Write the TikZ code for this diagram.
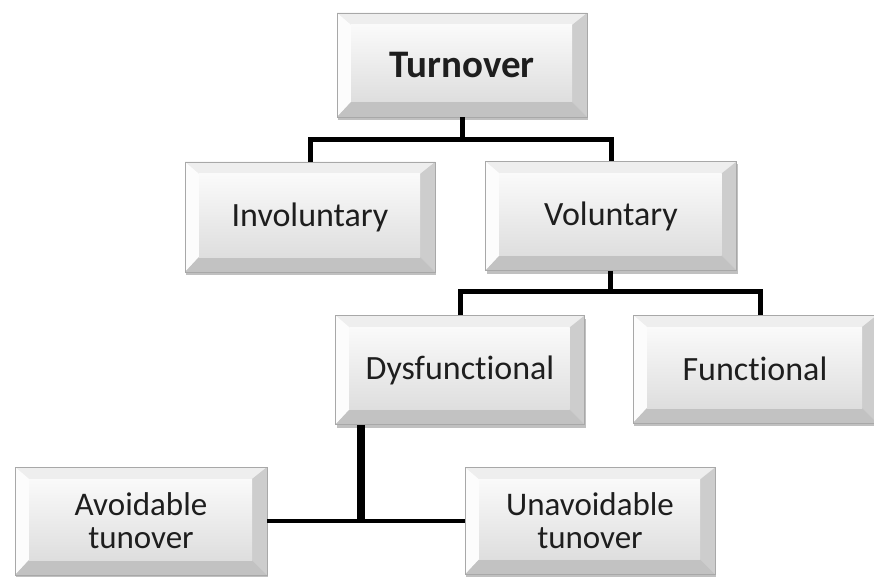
\documentclass[tikz,border=0pt]{standalone}
\usepackage{fontspec}
\setmainfont{Carlito}[Ligatures={NoCommon,NoRare}]
\usetikzlibrary{calc,shadows}
\definecolor{txt}{HTML}{1E1E1E}
\definecolor{facetop}{HTML}{FAFAFA}
\definecolor{facebot}{HTML}{DEDEDE}
\definecolor{bevtop}{HTML}{EEEEEE}
\definecolor{bevleft}{HTML}{FCFCFC}
\definecolor{bevright}{HTML}{CDCDCD}
\definecolor{bevbot}{HTML}{C2C2C2}
\definecolor{edge}{HTML}{A8A8A8}
\tikzset{
  bevelbox/.style={
    inner sep=0pt, align=center, text=txt,
    font=\fontsize{34}{30}\selectfont,
    drop shadow={shadow xshift=1pt, shadow yshift=-3pt, opacity=0.35, fill=black!70},
    draw=edge, line width=0.6pt,
    top color=facetop, bottom color=facebot,
    path picture={
      \coordinate (Bnw) at (path picture bounding box.north west);
      \coordinate (Bne) at (path picture bounding box.north east);
      \coordinate (Bse) at (path picture bounding box.south east);
      \coordinate (Bsw) at (path picture bounding box.south west);
      \coordinate (Inw) at ($(Bnw)+(14pt,-12pt)$);
      \coordinate (Ine) at ($(Bne)+(-15pt,-12pt)$);
      \coordinate (Ise) at ($(Bse)+(-15pt,15pt)$);
      \coordinate (Isw) at ($(Bsw)+(14pt,15pt)$);
      \fill[bevtop] (Bnw) -- (Bne) -- (Ine) -- (Inw) -- cycle;
      \fill[bevleft] (Bnw) -- (Inw) -- (Isw) -- (Bsw) -- cycle;
      \fill[bevright] (Bne) -- (Bse) -- (Ise) -- (Ine) -- cycle;
      \fill[bevbot] (Bsw) -- (Isw) -- (Ise) -- (Bse) -- cycle;
      \shade[top color=facetop, bottom color=facebot] (Inw) rectangle (Ise);
    }
  },
  twoline/.style={font=\fontsize{33}{33}\selectfont},
  conn/.style={line width=5pt, black},
  thickconn/.style={line width=8pt, black},
  thinconn/.style={line width=4pt, black}
}
\begin{document}
\begin{tikzpicture}[x=1pt,y=-1pt]
\useasboundingbox (0,0) rectangle (874,577);
\fill[white] (0,0) rectangle (874,577);

\node[bevelbox, minimum width=250pt, minimum height=104pt,
      font=\fontsize{39}{40}\selectfont\bfseries] (turnover) at (462,65) {Turnover};
\node[bevelbox, minimum width=250pt, minimum height=110pt] (invol) at (310,217) {Involuntary};
\node[bevelbox, minimum width=251pt, minimum height=109pt] (vol) at (611,216) {Voluntary};
\node[bevelbox, minimum width=249pt, minimum height=109pt] (dys) at (460,370) {Dysfunctional};
\node[bevelbox, minimum width=244pt, minimum height=108pt] (func) at (755,369) {Functional};
\node[bevelbox, twoline, minimum width=252pt, minimum height=108pt] (avoid) at (141,521) {Avoidable\\tunover};
\node[bevelbox, twoline, minimum width=250pt, minimum height=107pt] (unavoid) at (590,521) {Unavoidable\\tunover};

\coordinate (j1) at (462,140);
\coordinate (j2) at (610,291);
\coordinate (j3) at (361,521);

\draw[conn] (turnover.south) -- (j1);
\draw[conn] (invol.north) |- (j1) -| (vol.north);
\draw[conn] (vol.south -| j2) -- (j2);
\draw[conn] (dys.north) |- (j2) -| ($(func.north)+(5,0)$);
\draw[thickconn] (dys.south -| j3) -- (j3);
\draw[thinconn] (avoid.east) -- (unavoid.west);
\end{tikzpicture}
\end{document}
